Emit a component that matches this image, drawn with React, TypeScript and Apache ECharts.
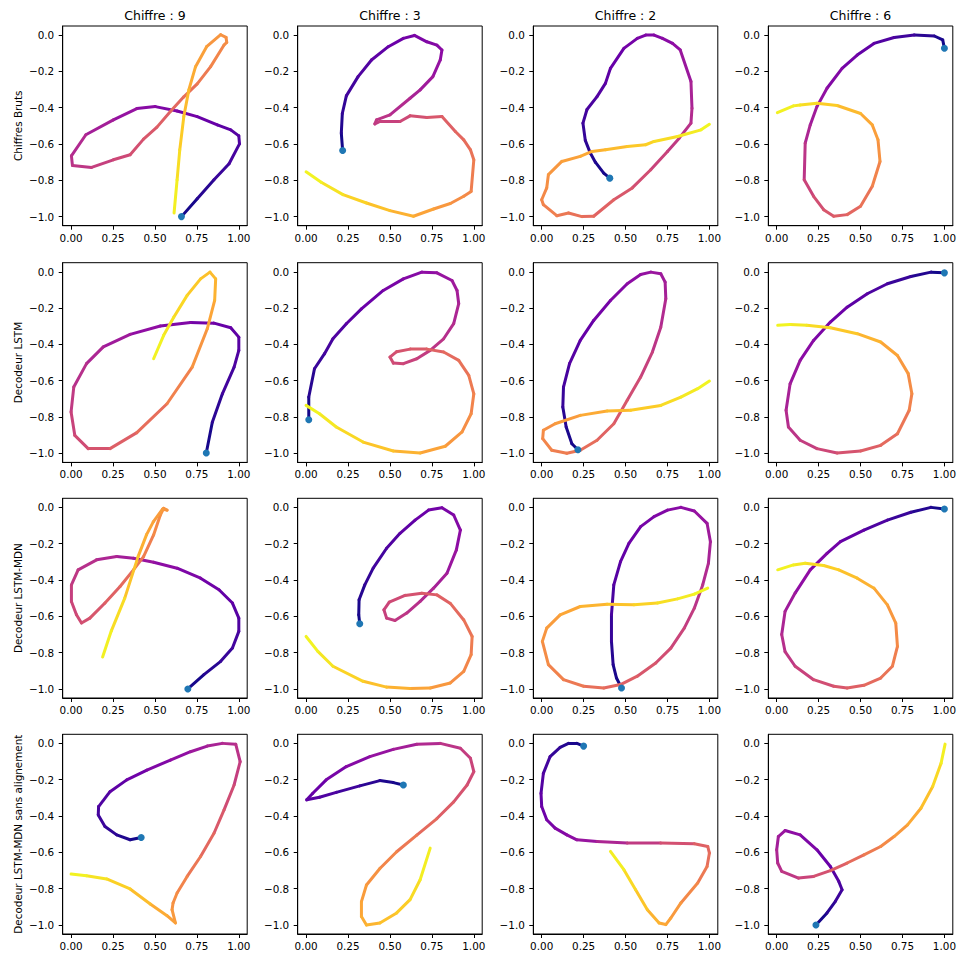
import React, { useEffect, useRef } from 'react';
import * as echarts from 'echarts';

// Column headers, row labels and tick values
const digits = ['9', '3', '2', '6'];
const rowLabels = [
  'Chiffres Bruts',
  'Decodeur LSTM',
  'Decodeur LSTM-MDN',
  'Decodeur LSTM-MDN sans alignement',
];
const xTicks = [0, 0.25, 0.5, 0.75, 1];
const yTicks = [0, -0.2, -0.4, -0.6, -0.8, -1];

// Pen trajectories (x, y); the first point is the starting point of the stroke.
// Row 1: raw digits
const raw9 = [
  [0.658, -1.0], [0.752, -0.901], [0.852, -0.797], [0.942, -0.709], [1.004, -0.599], [1.0, -0.555],
  [0.952, -0.522], [0.872, -0.495], [0.752, -0.449], [0.632, -0.418], [0.502, -0.394], [0.392, -0.405],
  [0.252, -0.467], [0.088, -0.549], [0.002, -0.665], [0.008, -0.718], [0.122, -0.729], [0.252, -0.687],
  [0.352, -0.659], [0.432, -0.573], [0.512, -0.507], [0.592, -0.421], [0.672, -0.34], [0.752, -0.269],
  [0.832, -0.174], [0.912, -0.055], [0.928, -0.04], [0.924, -0.013], [0.892, 0.002], [0.808, -0.064],
  [0.742, -0.174], [0.702, -0.302], [0.672, -0.449], [0.648, -0.632], [0.632, -0.797], [0.614, -0.98],
];
const raw3 = [
  [0.218, -0.636], [0.21, -0.54], [0.216, -0.432], [0.24, -0.335], [0.31, -0.229], [0.39, -0.137],
  [0.49, -0.064], [0.58, -0.018], [0.646, -0.002], [0.72, -0.037], [0.78, -0.055], [0.81, -0.082],
  [0.8, -0.137], [0.756, -0.229], [0.68, -0.302], [0.62, -0.348], [0.5, -0.44], [0.42, -0.467],
  [0.41, -0.489], [0.44, -0.476], [0.56, -0.476], [0.62, -0.445], [0.72, -0.454], [0.81, -0.449],
  [0.89, -0.531], [0.94, -0.577], [0.98, -0.632], [1.0, -0.687], [0.984, -0.861], [0.94, -0.888],
  [0.86, -0.928], [0.76, -0.958], [0.64, -0.998], [0.5, -0.967], [0.36, -0.925], [0.22, -0.879],
  [0.09, -0.811], [0.0, -0.753],
];
const raw2 = [
  [0.406, -0.788], [0.37, -0.76], [0.32, -0.7], [0.29, -0.65], [0.26, -0.58], [0.246, -0.485],
  [0.27, -0.41], [0.33, -0.339], [0.38, -0.266], [0.41, -0.183], [0.49, -0.073], [0.57, -0.018],
  [0.62, 0.0], [0.67, 0.0], [0.72, -0.018], [0.78, -0.046], [0.826, -0.082], [0.89, -0.256],
  [0.896, -0.403], [0.89, -0.485], [0.82, -0.568], [0.75, -0.641], [0.65, -0.742], [0.54, -0.842],
  [0.43, -0.907], [0.31, -0.998], [0.24, -1.0], [0.16, -0.98], [0.09, -0.995], [0.01, -0.934],
  [0.0, -0.907], [0.03, -0.842], [0.04, -0.769], [0.12, -0.696], [0.23, -0.668], [0.3, -0.641],
  [0.38, -0.632], [0.51, -0.614], [0.62, -0.604], [0.67, -0.586], [0.81, -0.559], [0.95, -0.522],
  [1.0, -0.491],
];
const raw6 = [
  [1.0, -0.073], [0.99, -0.027], [0.94, -0.005], [0.82, 0.0], [0.7, -0.013], [0.58, -0.046],
  [0.48, -0.11], [0.39, -0.183], [0.3, -0.293], [0.24, -0.394], [0.2, -0.495], [0.17, -0.595],
  [0.164, -0.797], [0.22, -0.888], [0.28, -0.962], [0.34, -0.998], [0.42, -0.989], [0.5, -0.943],
  [0.57, -0.833], [0.616, -0.696], [0.604, -0.577], [0.57, -0.495], [0.5, -0.432], [0.36, -0.388],
  [0.24, -0.375], [0.14, -0.385], [0.1, -0.39], [0.004, -0.427],
];

// Row 2: LSTM decoder
const lstm9 = [
  [0.806, -0.998], [0.842, -0.829], [0.902, -0.672], [0.972, -0.525], [1.0, -0.433], [1.0, -0.36],
  [0.952, -0.308], [0.852, -0.283], [0.712, -0.279], [0.532, -0.299], [0.352, -0.345], [0.192, -0.414],
  [0.092, -0.506], [0.016, -0.635], [0.0, -0.772], [0.022, -0.901], [0.102, -0.974], [0.232, -0.974],
  [0.392, -0.886], [0.572, -0.727], [0.722, -0.525], [0.812, -0.314], [0.856, -0.158], [0.862, -0.039],
  [0.828, -0.002], [0.772, -0.039], [0.692, -0.13], [0.612, -0.25], [0.552, -0.35], [0.492, -0.479],
];
const lstm3 = [
  [0.016, -0.815], [0.016, -0.69], [0.05, -0.534], [0.11, -0.451], [0.16, -0.369], [0.24, -0.286],
  [0.33, -0.204], [0.46, -0.103], [0.58, -0.039], [0.69, -0.002], [0.78, -0.006], [0.87, -0.048],
  [0.9, -0.103], [0.91, -0.176], [0.88, -0.286], [0.82, -0.369], [0.74, -0.433], [0.66, -0.479],
  [0.58, -0.506], [0.52, -0.503], [0.5, -0.47], [0.54, -0.44], [0.62, -0.426], [0.72, -0.426],
  [0.82, -0.442], [0.91, -0.488], [0.97, -0.571], [1.0, -0.672], [0.984, -0.782], [0.93, -0.882],
  [0.83, -0.961], [0.68, -0.998], [0.52, -0.987], [0.34, -0.938], [0.18, -0.855], [0.08, -0.782],
  [0.0, -0.736],
];
const lstm2 = [
  [0.216, -0.98], [0.18, -0.947], [0.146, -0.855], [0.126, -0.745], [0.13, -0.635], [0.166, -0.506],
  [0.23, -0.378], [0.31, -0.268], [0.41, -0.158], [0.51, -0.066], [0.59, -0.015], [0.65, -0.002],
  [0.71, -0.011], [0.736, -0.057], [0.74, -0.149], [0.71, -0.305], [0.66, -0.442], [0.59, -0.58],
  [0.51, -0.708], [0.43, -0.837], [0.33, -0.928], [0.23, -0.983], [0.15, -1.0], [0.06, -0.983],
  [0.006, -0.919], [0.01, -0.873], [0.08, -0.837], [0.23, -0.791], [0.39, -0.767], [0.53, -0.763],
  [0.71, -0.736], [0.83, -0.69], [0.93, -0.644], [1.0, -0.602],
];
const lstm6 = [
  [1.0, -0.006], [0.92, -0.002], [0.8, -0.026], [0.66, -0.066], [0.54, -0.121], [0.42, -0.195],
  [0.32, -0.277], [0.22, -0.378], [0.14, -0.488], [0.08, -0.617], [0.056, -0.763], [0.07, -0.855],
  [0.14, -0.928], [0.24, -0.974], [0.36, -0.998], [0.5, -0.987], [0.62, -0.956], [0.72, -0.892],
  [0.79, -0.763], [0.806, -0.672], [0.784, -0.561], [0.72, -0.461], [0.62, -0.387], [0.48, -0.341],
  [0.32, -0.308], [0.18, -0.295], [0.08, -0.29], [0.006, -0.295],
];

// Row 3: LSTM-MDN decoder
const mdn9 = [
  [0.696, -1.0], [0.792, -0.921], [0.892, -0.848], [0.962, -0.775], [1.0, -0.683], [1.0, -0.61],
  [0.962, -0.527], [0.882, -0.454], [0.772, -0.39], [0.632, -0.335], [0.492, -0.302], [0.372, -0.28],
  [0.272, -0.271], [0.152, -0.289], [0.042, -0.344], [0.002, -0.427], [0.002, -0.518], [0.032, -0.591],
  [0.062, -0.637], [0.112, -0.61], [0.202, -0.527], [0.292, -0.436], [0.372, -0.344], [0.432, -0.271],
  [0.492, -0.152], [0.532, -0.042], [0.552, -0.005], [0.572, -0.015], [0.545, -0.01], [0.49, -0.08],
  [0.45, -0.15], [0.4, -0.27], [0.32, -0.5], [0.24, -0.68], [0.188, -0.824],
];
const mdn3 = [
  [0.32, -0.641], [0.314, -0.592], [0.316, -0.509], [0.35, -0.427], [0.4, -0.335], [0.48, -0.225],
  [0.56, -0.143], [0.65, -0.07], [0.73, -0.015], [0.81, -0.002], [0.88, -0.042], [0.92, -0.125],
  [0.896, -0.234], [0.84, -0.363], [0.76, -0.445], [0.68, -0.518], [0.6, -0.582], [0.53, -0.623],
  [0.48, -0.61], [0.464, -0.564], [0.496, -0.522], [0.59, -0.485], [0.69, -0.473], [0.78, -0.482],
  [0.86, -0.529], [0.94, -0.62], [0.99, -0.711], [0.984, -0.811], [0.94, -0.903], [0.86, -0.967],
  [0.74, -0.995], [0.62, -0.998], [0.48, -0.99], [0.34, -0.958], [0.16, -0.875], [0.07, -0.793],
  [0.0, -0.711],
];
const mdn2 = [
  [0.476, -0.995], [0.446, -0.94], [0.426, -0.866], [0.416, -0.738], [0.416, -0.592], [0.43, -0.427],
  [0.47, -0.299], [0.52, -0.198], [0.59, -0.106], [0.67, -0.051], [0.75, -0.015], [0.83, 0.0],
  [0.91, -0.02], [0.986, -0.088], [1.006, -0.189], [0.994, -0.308], [0.96, -0.427], [0.91, -0.555],
  [0.85, -0.665], [0.77, -0.775], [0.68, -0.857], [0.57, -0.93], [0.47, -0.976], [0.37, -0.995],
  [0.25, -0.985], [0.13, -0.949], [0.04, -0.866], [0.004, -0.738], [0.03, -0.665], [0.11, -0.592],
  [0.23, -0.546], [0.39, -0.533], [0.55, -0.537], [0.69, -0.527], [0.81, -0.504], [0.91, -0.478],
  [0.99, -0.445],
];
const mdn6 = [
  [1.0, -0.009], [0.92, 0.0], [0.8, -0.027], [0.66, -0.07], [0.52, -0.125], [0.38, -0.189],
  [0.3, -0.253], [0.2, -0.344], [0.11, -0.472], [0.05, -0.573], [0.03, -0.7], [0.05, -0.795],
  [0.11, -0.875], [0.22, -0.949], [0.34, -0.985], [0.42, -0.995], [0.52, -0.98], [0.62, -0.94],
  [0.69, -0.875], [0.72, -0.766], [0.71, -0.637], [0.66, -0.537], [0.58, -0.445], [0.48, -0.39],
  [0.37, -0.344], [0.28, -0.32], [0.17, -0.308], [0.1, -0.317], [0.006, -0.344],
];

// Row 4: LSTM-MDN decoder without alignment
const free9 = [
  [0.418, -0.518], [0.352, -0.531], [0.272, -0.504], [0.202, -0.458], [0.162, -0.394], [0.164, -0.348],
  [0.232, -0.266], [0.332, -0.201], [0.452, -0.147], [0.592, -0.092], [0.712, -0.046], [0.812, -0.015],
  [0.902, 0.0], [0.982, -0.005], [1.008, -0.101], [0.972, -0.229], [0.912, -0.366], [0.852, -0.495],
  [0.772, -0.623], [0.692, -0.733], [0.632, -0.824], [0.608, -0.879], [0.602, -0.916], [0.622, -0.989],
  [0.572, -0.949], [0.472, -0.885], [0.352, -0.802], [0.212, -0.747], [0.092, -0.729], [0.0, -0.72],
];
const free3 = [
  [0.58, -0.229], [0.52, -0.216], [0.44, -0.205], [0.32, -0.234], [0.18, -0.27], [0.08, -0.297],
  [0.004, -0.311], [0.04, -0.275], [0.12, -0.201], [0.24, -0.128], [0.38, -0.073], [0.52, -0.033],
  [0.66, -0.005], [0.8, 0.0], [0.92, -0.027], [0.98, -0.082], [1.0, -0.156], [0.96, -0.229],
  [0.88, -0.322], [0.78, -0.414], [0.66, -0.505], [0.54, -0.597], [0.44, -0.689], [0.36, -0.78],
  [0.33, -0.872], [0.33, -0.954], [0.36, -1.0], [0.44, -0.989], [0.54, -0.934], [0.62, -0.861],
  [0.68, -0.751], [0.74, -0.577],
];
const free2 = [
  [0.25, -0.015], [0.21, 0.0], [0.16, 0.0], [0.11, -0.022], [0.05, -0.073], [0.01, -0.165],
  [-0.004, -0.275], [0.0, -0.348], [0.03, -0.421], [0.08, -0.467], [0.15, -0.504], [0.21, -0.531],
  [0.33, -0.54], [0.51, -0.549], [0.71, -0.549], [0.91, -0.553], [0.99, -0.568], [1.0, -0.604],
  [0.986, -0.678], [0.93, -0.769], [0.83, -0.879], [0.77, -0.962], [0.74, -0.998], [0.7, -0.989],
  [0.63, -0.916], [0.56, -0.806], [0.49, -0.696], [0.41, -0.595],
];
const free6 = [
  [0.234, -1.0], [0.3, -0.934], [0.35, -0.87], [0.39, -0.806], [0.37, -0.76], [0.32, -0.678],
  [0.24, -0.586], [0.14, -0.504], [0.05, -0.48], [0.01, -0.513], [0.0, -0.586], [0.006, -0.659],
  [0.03, -0.705], [0.13, -0.742], [0.22, -0.733], [0.32, -0.701], [0.42, -0.659], [0.52, -0.614],
  [0.62, -0.568], [0.7, -0.513], [0.78, -0.449], [0.86, -0.357], [0.93, -0.238], [0.98, -0.11],
  [1.004, -0.004],
];

const panels = [
  [raw9, raw3, raw2, raw6],
  [lstm9, lstm3, lstm2, lstm6],
  [mdn9, mdn3, mdn2, mdn6],
  [free9, free3, free2, free6],
];

// Layout of the 4x4 axes (pixels)
const COL_LEFT = [62.7, 297.7, 533.3, 768.3];
const ROW_TOP = [26, 262.7, 498.3, 734.3];
const AX_W = 184.5;
const AX_H = 199.7;
const FONT = 'DejaVu Sans';

// Plasma colormap stops
const PLASMA = [
  '#0d0887', '#41049d', '#6a00a8', '#8f0da4', '#b12a90', '#cc4778',
  '#e16462', '#f2844b', '#fca636', '#fcce25', '#f0f921',
];

function hexToRgb(h: string) {
  return [parseInt(h.slice(1, 3), 16), parseInt(h.slice(3, 5), 16), parseInt(h.slice(5, 7), 16)];
}

function plasma(t: number) {
  const s = Math.max(0, Math.min(1, t)) * (PLASMA.length - 1);
  const i = Math.min(Math.floor(s), PLASMA.length - 2);
  const f = s - i;
  const a = hexToRgb(PLASMA[i]);
  const b = hexToRgb(PLASMA[i + 1]);
  const c = a.map((v, k) => Math.round(v + (b[k] - v) * f));
  return `rgb(${c[0]},${c[1]},${c[2]})`;
}

// Split a stroke into segments, each tagged with its position along the stroke
function toSegments(pts: number[][]) {
  const cum = [0];
  for (let i = 1; i < pts.length; i++) {
    const dx = pts[i][0] - pts[i - 1][0];
    const dy = pts[i][1] - pts[i - 1][1];
    cum.push(cum[i - 1] + Math.sqrt(dx * dx + dy * dy));
  }
  const total = cum[cum.length - 1] || 1;
  const segs: number[][] = [];
  for (let i = 0; i < pts.length - 1; i++) {
    const t = (cum[i] + cum[i + 1]) / 2 / total;
    segs.push([pts[i][0], pts[i][1], pts[i + 1][0], pts[i + 1][1], t]);
  }
  return segs;
}

const fmtY = (v: number) => (v < -1e-9 ? '\u2212' : '') + Math.abs(v).toFixed(1);
const fmtX = (v: number) => v.toFixed(2);

function buildOption() {
  const grid: any[] = [];
  const xAxis: any[] = [];
  const yAxis: any[] = [];
  const series: any[] = [];
  const graphic: any[] = [];

  panels.forEach((row, r) => {
    row.forEach((pts, c) => {
      const k = r * 4 + c;
      grid.push({
        left: COL_LEFT[c],
        top: ROW_TOP[r],
        width: AX_W,
        height: AX_H,
        show: true,
        borderColor: '#000',
        borderWidth: 1,
        backgroundColor: 'transparent',
      });
      const common = {
        type: 'value',
        gridIndex: k,
        splitLine: { show: false },
        axisLine: { show: true, onZero: false, lineStyle: { color: '#000', width: 1 } },
        axisTick: { show: true, inside: false, length: 4, lineStyle: { color: '#000', width: 1 } },
      };
      xAxis.push({
        ...common,
        min: -0.05,
        max: 1.05,
        axisTick: { ...common.axisTick, customValues: xTicks },
        axisLabel: {
          customValues: xTicks,
          formatter: fmtX,
          color: '#000',
          fontSize: 10.4,
          fontFamily: FONT,
          margin: 7,
        },
      });
      yAxis.push({
        ...common,
        min: -1.05,
        max: 0.05,
        axisTick: { ...common.axisTick, customValues: yTicks },
        axisLabel: {
          customValues: yTicks,
          formatter: fmtY,
          color: '#000',
          fontSize: 10.4,
          fontFamily: FONT,
          margin: 8.5,
        },
      });
      series.push({
        type: 'custom',
        xAxisIndex: k,
        yAxisIndex: k,
        silent: true,
        z: 2,
        encode: { x: [0, 2], y: [1, 3] },
        data: toSegments(pts),
        renderItem: (_params: any, api: any) => {
          const p1 = api.coord([api.value(0), api.value(1)]);
          const p2 = api.coord([api.value(2), api.value(3)]);
          return {
            type: 'line',
            shape: { x1: p1[0], y1: p1[1], x2: p2[0], y2: p2[1] },
            style: { stroke: plasma(api.value(4)), lineWidth: 3, lineCap: 'round' },
          };
        },
      });
      series.push({
        type: 'scatter',
        xAxisIndex: k,
        yAxisIndex: k,
        silent: true,
        z: 3,
        symbolSize: 7,
        itemStyle: { color: '#1f77b4', opacity: 1 },
        data: [pts[0]],
      });
    });
  });

  digits.forEach((d, c) => {
    graphic.push({
      type: 'text',
      x: COL_LEFT[c] + AX_W / 2,
      y: 15,
      style: {
        text: `Chiffre : ${d}`,
        fill: '#000',
        font: `12.5px "${FONT}"`,
        align: 'center',
        verticalAlign: 'middle',
      },
    });
  });

  rowLabels.forEach((label, r) => {
    graphic.push({
      type: 'text',
      x: 17.5,
      y: ROW_TOP[r] + AX_H / 2,
      rotation: Math.PI / 2,
      style: {
        text: label,
        fill: '#000',
        font: `10.4px "${FONT}"`,
        align: 'center',
        verticalAlign: 'middle',
      },
    });
  });

  return {
    animation: false,
    backgroundColor: '#fff',
    grid,
    xAxis,
    yAxis,
    series,
    graphic,
  };
}

export default function App() {
  const ref = useRef<HTMLDivElement>(null);
  useEffect(() => {
    if (!ref.current) return;
    const chart = echarts.init(ref.current, undefined, { renderer: 'svg' });
    chart.setOption(buildOption() as any);
    return () => chart.dispose();
  }, []);
  return (
    <div
      ref={ref}
      style={{ position: 'fixed', left: 0, top: 0, width: 960, height: 955, background: '#fff' }}
    />
  );
}
